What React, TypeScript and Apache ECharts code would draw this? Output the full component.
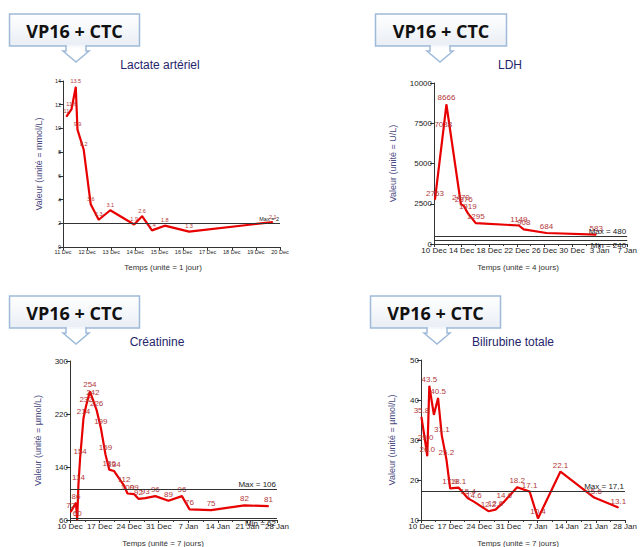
import React, { useEffect, useRef } from "react";
import * as echarts from "echarts";

// ---------- data ----------
const calloutText = "VP16 + CTC";

// Lactate artériel (x = days since 11 Dec)
const lactateTitle = "Lactate artériel";
const lactateDays = [0.14, 0.35, 0.53, 0.6, 0.86, 1.15, 1.48, 1.96, 2.95, 3.28, 3.69, 4.22, 5.23, 8.7];
const lactateValues = [11, 11.6, 13.5, 9.9, 8.2, 3.6, 2.3, 3.1, 1.9, 2.6, 1.4, 1.8, 1.3, 2.1];
const lactateXTicks = ["11 Dec", "12 Dec", "13 Dec", "14 Dec", "15 Dec", "16 Dec", "17 Dec", "18 Dec", "19 Dec", "20 Dec"];
const lactateYTicks = [0, 2, 4, 6, 8, 10, 12, 14];
const lactateRefValues = [2];
const lactateRefLabels = ["Max = 2"];
const lactateYName = "Valeur (unité = mmol/L)";
const lactateXName = "Temps (unité = 1 jour)";

// LDH (x = days since 10 Dec)
const ldhTitle = "LDH";
const ldhDays = [0.14, 1.35, 1.8, 3.9, 4.3, 4.9, 6.05, 12.3, 13.0, 16.3, 23.5];
const ldhValues = [2753, 7038, 8666, 2470, 2376, 1919, 1295, 1149, 908, 684, 583];
const ldhXTicks = ["10 Dec", "14 Dec", "18 Dec", "22 Dec", "26 Dec", "30 Dec", "3 Jan", "7 Jan"];
const ldhYTicks = [0, 2500, 5000, 7500, 10000];
const ldhRefValues = [480, 240];
const ldhRefLabels = ["Max = 480", "Min = 240"];
const ldhYName = "Valeur (unité = U/L)";
const ldhXName = "Temps (unité = 4 jours)";

// Créatinine (x = days since 10 Dec)
const creaTitle = "Créatinine";
const creaDays = [0.17, 1.4, 1.7, 2.0, 2.4, 3.2, 3.8, 4.7, 5.4, 6.3, 7.3, 8.4, 9.3, 10.4, 12.8, 13.6, 15.2, 16.2, 17.8, 20.2, 23.3, 26.5, 28.3, 33.4, 41.3, 47.0];
const creaValues = [72, 86, 60, 114, 154, 214, 232, 254, 242, 226, 199, 159, 136, 134, 112, 100, 99, 92, 93, 96, 89, 96, 76, 75, 82, 81];
const creaXTicks = ["10 Dec", "17 Dec", "24 Dec", "31 Dec", "7 Jan", "14 Jan", "21 Jan", "28 Jan"];
const creaYTicks = [60, 140, 220, 300];
const creaRefValues = [106, 62];
const creaRefLabels = ["Max = 106", "Min = 62"];
const creaYName = "Valeur (unité = µmol/L)";
const creaXName = "Temps (unité = 7 jours)";

// Bilirubine totale (x = days since 10 Dec)
const biliTitle = "Bilirubine totale";
const biliDays = [0.1, 1.1, 1.5, 2.0, 3.1, 4.1, 5.0, 6.1, 7.0, 9.0, 11.3, 12.7, 16.2, 17.9, 20.0, 23.1, 26.1, 28.1, 33.5, 41.6, 47.4];
const biliValues = [35.8, 29.0, 26.0, 43.5, 36.3, 40.5, 31.1, 25.2, 17.9, 18.1, 15.4, 14.6, 12.2, 12.6, 14.6, 18.2, 17.1, 10.4, 22.1, 15.6, 13.1];
const biliHiddenLabels = [4];
const biliXTicks = ["10 Dec", "17 Dec", "24 Dec", "31 Dec", "7 Jan", "14 Jan", "21 Jan", "28 Jan"];
const biliYTicks = [10, 20, 30, 40, 50];
const biliRefValues = [17.1];
const biliRefLabels = ["Max = 17,1"];
const biliYName = "Valeur (unité = µmol/L)";
const biliXName = "Temps (unité = 7 jours)";

// ---------- layout / style ----------
const FONT = "'Liberation Sans', Arial, sans-serif";
const RED = "#e80000";
const LABEL_RED = "#b2393c";
const TITLE_COLOR = "#25256b";
const YNAME_COLOR = "#4a4a82";

type Panel = {
  title: string;
  days: number[];
  values: number[];
  xTicks: string[];
  xInterval: number;
  yTicks: number[];
  refValues: number[];
  refLabels: string[];
  yName: string;
  xName: string;
  grid: { left: number; top: number; width: number; height: number };
  tickFont: number;
  labelFont: number;
  yNameGap: number;
  minor: boolean;
  decimals: number | null;
  hidden?: number[];
  titlePos: [number, number];
  xNamePos: [number, number];
  callout: { x: number; y: number; w: number; h: number; arrowX: number };
};

const panels: Panel[] = [
  {
    title: lactateTitle, days: lactateDays, values: lactateValues, xTicks: lactateXTicks, xInterval: 1,
    yTicks: lactateYTicks, refValues: lactateRefValues, refLabels: lactateRefLabels, yName: lactateYName, xName: lactateXName,
    grid: { left: 63, top: 81, width: 217, height: 166 }, tickFont: 5.5, labelFont: 5.5, yNameGap: 20, minor: false, decimals: null,
    titlePos: [160, 65], xNamePos: [163, 267], callout: { x: 9.5, y: 14, w: 130, h: 32, arrowX: 76 },
  },
  {
    title: ldhTitle, days: ldhDays, values: ldhValues, xTicks: ldhXTicks, xInterval: 4,
    yTicks: ldhYTicks, refValues: ldhRefValues, refLabels: ldhRefLabels, yName: ldhYName, xName: ldhXName,
    grid: { left: 434, top: 83, width: 196, height: 161 }, tickFont: 8, labelFont: 8, yNameGap: 37, minor: true, decimals: null,
    titlePos: [510, 65], xNamePos: [518, 267], callout: { x: 375.5, y: 14, w: 131, h: 32, arrowX: 440 },
  },
  {
    title: creaTitle, days: creaDays, values: creaValues, xTicks: creaXTicks, xInterval: 7,
    yTicks: creaYTicks, refValues: creaRefValues, refLabels: creaRefLabels, yName: creaYName, xName: creaXName,
    grid: { left: 70, top: 361, width: 207, height: 159 }, tickFont: 8, labelFont: 8, yNameGap: 28, minor: true, decimals: null,
    titlePos: [157, 342], xNamePos: [163, 543], callout: { x: 9.5, y: 296, w: 130, h: 32, arrowX: 76 },
  },
  {
    title: biliTitle, days: biliDays, values: biliValues, xTicks: biliXTicks, xInterval: 7,
    yTicks: biliYTicks, refValues: biliRefValues, refLabels: biliRefLabels, yName: biliYName, xName: biliXName,
    grid: { left: 421, top: 360, width: 209, height: 160 }, tickFont: 8, labelFont: 8, yNameGap: 25, minor: true, decimals: 1,
    hidden: biliHiddenLabels,
    titlePos: [513, 342], xNamePos: [518, 543], callout: { x: 370.5, y: 296, w: 130, h: 32, arrowX: 437 },
  },
];

function buildOption() {
  const grids: any[] = [];
  const xAxes: any[] = [];
  const yAxes: any[] = [];
  const series: any[] = [];
  const graphics: any[] = [];

  panels.forEach((p, i) => {
    grids.push({ ...p.grid, containLabel: false });
    const xMax = (p.xTicks.length - 1) * p.xInterval;
    xAxes.push({
      type: "value",
      gridIndex: i,
      min: 0,
      max: xMax,
      interval: p.xInterval,
      axisLine: { onZero: false, lineStyle: { color: "#333", width: 1 } },
      axisTick: { show: true, length: 3, lineStyle: { color: "#333" } },
      minorTick: { show: p.minor, splitNumber: 2, length: 2, lineStyle: { color: "#333" } },
      splitLine: { show: false },
      minorSplitLine: { show: false },
      axisLabel: {
        fontSize: p.tickFont,
        fontFamily: FONT,
        color: "#222",
        margin: 2,
        formatter: (v: number) => p.xTicks[Math.round(v / p.xInterval)] ?? "",
      },
    });
    const yMin = p.yTicks[0];
    const yMax = p.yTicks[p.yTicks.length - 1];
    yAxes.push({
      type: "value",
      gridIndex: i,
      min: yMin,
      max: yMax,
      axisLine: { show: true, onZero: false, lineStyle: { color: "#333", width: 1 } },
      axisTick: { show: true, length: 4, customValues: p.yTicks, lineStyle: { color: "#333" } },
      axisLabel: {
        fontSize: p.tickFont,
        fontFamily: FONT,
        color: "#222",
        margin: 2,
        customValues: p.yTicks,
        formatter: (v: number) => String(v),
      },
      splitLine: { show: false },
      name: p.yName,
      nameLocation: "middle",
      nameGap: p.yNameGap,
      nameTextStyle: { fontSize: 9, fontFamily: FONT, color: YNAME_COLOR },
    });
    series.push({
      type: "line",
      xAxisIndex: i,
      yAxisIndex: i,
      data: p.days.map((d, k) => {
        const item: any = { value: [d, p.values[k]] };
        if (p.hidden && p.hidden.includes(k)) item.label = { show: false };
        return item;
      }),
      symbol: "circle",
      symbolSize: 1,
      showAllSymbol: true,
      itemStyle: { color: RED },
      lineStyle: { color: RED, width: 2.2 },
      label: {
        show: true,
        position: "top",
        distance: 2,
        fontSize: p.labelFont,
        fontFamily: FONT,
        color: LABEL_RED,
        formatter: (prm: any) => {
          const v = prm.value[1];
          return p.decimals == null ? String(v) : v.toFixed(p.decimals);
        },
      },
      markLine: {
        silent: true,
        symbol: "none",
        lineStyle: { color: "#333", width: 1, type: "solid" },
        data: p.refValues.map((v, k) => ({
          yAxis: v,
          label: {
            show: true,
            formatter: p.refLabels[k],
            position: k === 0 ? "insideEndTop" : "insideEndBottom",
            distance: 1,
            fontSize: p.labelFont,
            fontFamily: FONT,
            color: "#222",
          },
        })),
      },
    });

    graphics.push({
      type: "text",
      x: p.titlePos[0],
      y: p.titlePos[1],
      style: { text: p.title, font: `12px ${FONT}`, fill: TITLE_COLOR, align: "center", verticalAlign: "middle" },
    });
    graphics.push({
      type: "text",
      x: p.xNamePos[0],
      y: p.xNamePos[1],
      style: { text: p.xName, font: `8px ${FONT}`, fill: "#333", align: "center", verticalAlign: "middle" },
    });
    const c = p.callout;
    graphics.push({
      type: "rect",
      shape: { x: c.x, y: c.y, width: c.w, height: c.h },
      style: {
        fill: new echarts.graphic.LinearGradient(0, 0, 0, 1, [
          { offset: 0, color: "#ffffff" },
          { offset: 1, color: "#e9eef5" },
        ]),
        stroke: "#9fbad9",
        lineWidth: 1.5,
      },
    });
    const y0 = c.y + c.h;
    const ax = c.arrowX;
    graphics.push({
      type: "polygon",
      shape: {
        points: [
          [ax - 10, y0],
          [ax - 10, y0 + 5],
          [ax - 13, y0 + 5],
          [ax, y0 + 16],
          [ax + 13, y0 + 5],
          [ax + 10, y0 + 5],
          [ax + 10, y0],
        ],
      },
      style: { fill: "#ffffff", stroke: "#9fbad9", lineWidth: 1.5 },
    });
    graphics.push({
      type: "rect",
      shape: { x: ax - 9.2, y: y0 - 1.2, width: 18.4, height: 2.4 },
      style: { fill: "#f3f6fa" },
    });
    graphics.push({
      type: "text",
      x: c.x + c.w / 2,
      y: c.y + c.h / 2 + 1,
      style: {
        text: calloutText,
        font: `bold 18px 'Open Sans', sans-serif`,
        fill: "#111",
        align: "center",
        verticalAlign: "middle",
      },
    });
  });

  return {
    animation: false,
    backgroundColor: "#ffffff",
    grid: grids,
    xAxis: xAxes,
    yAxis: yAxes,
    series,
    graphic: graphics,
  };
}

export default function App() {
  const ref = useRef<HTMLDivElement>(null);
  useEffect(() => {
    if (!ref.current) return;
    const chart = echarts.init(ref.current, undefined, { renderer: "svg" });
    chart.setOption(buildOption() as any);
    return () => chart.dispose();
  }, []);
  return (
    <div
      ref={ref}
      style={{ position: "absolute", left: 0, top: 0, width: 640, height: 547, background: "#fff" }}
    />
  );
}
